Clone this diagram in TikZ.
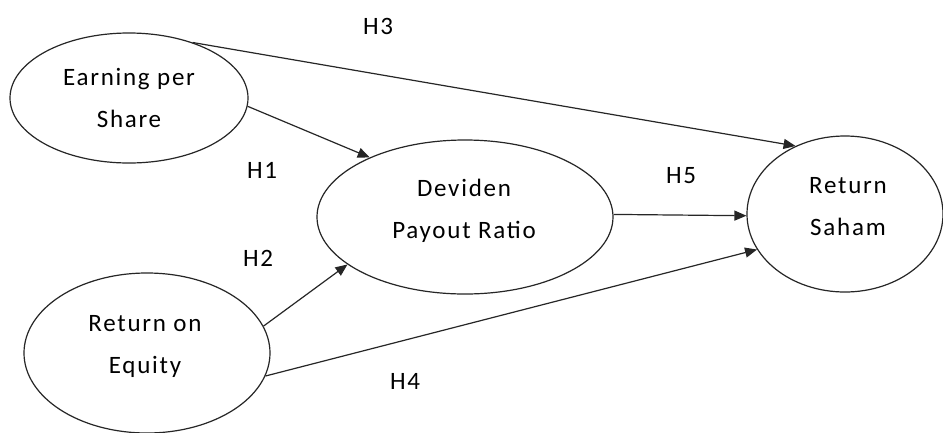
\documentclass[tikz,border=0pt]{standalone}
\usepackage{fontspec}
\setmainfont{Carlito}[LetterSpace=7]
\usetikzlibrary{shapes.geometric,arrows.meta}
\begin{document}
\begin{tikzpicture}[x=1pt,y=-1pt,
  ell/.style={draw=black!85, ellipse, line width=1.2pt, inner sep=0pt},
  txt/.style={align=center, inner sep=0pt, anchor=base, font=\fontsize{25}{42}\selectfont},
  lab/.style={inner sep=0pt, font=\fontsize{25}{30}\selectfont},
  arr/.style={draw=black!85, line width=1.2pt, -{Triangle[length=12pt,width=10pt]}}]
\useasboundingbox (0,0) rectangle (943,432);
\fill[white] (0,0) rectangle (943,432);
% ellipses
\node[ell, minimum width=238pt, minimum height=130pt] (eps) at (129,98) {};
\node[ell, minimum width=296pt, minimum height=154pt] (dpr) at (465,217) {};
\node[ell, minimum width=196pt, minimum height=156pt] (rs) at (845,214) {};
\node[ell, minimum width=246pt, minimum height=160pt] (roe) at (147,353) {};
% texts (base = baseline of the last line)
\node[txt] (epst) at (129,127) {Earning per\\Share};
\node[txt] (dprt) at (464,238) {Deviden\\Payout Ratio};
\node[txt] (rst) at (848,235) {Return\\Saham};
\node[txt] (roet) at (145,373) {Return on\\Equity};
% connectors
\draw[arr] (eps.41.5) -- (rs.126.6);
\draw[arr] (eps.-4.4) -- (dpr.148.5);
\draw[arr] (roe.13.6) -- (dpr.202.3);
\draw[arr] (roe.-11.2) -- (rs.202.7);
\draw[arr] (dpr.1.2) -- (rs.181.9);
% labels
\node[lab] (h3) at (378,26) {H3};
\node[lab] (h1) at (262,170) {H1};
\node[lab] (h5) at (681,176) {H5};
\node[lab] (h2) at (258,258) {H2};
\node[lab] (h4) at (405,381) {H4};
\end{tikzpicture}
\end{document}
